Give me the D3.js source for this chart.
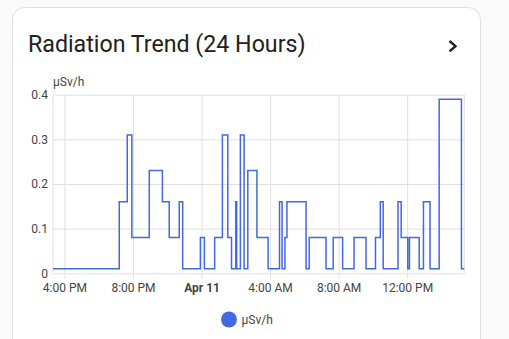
<!DOCTYPE html>
<html><head><meta charset="utf-8">
<script src="https://cdn.jsdelivr.net/npm/d3@7"></script>
<style>
html,body{margin:0;padding:0;background:#fafafa;}
svg{display:block;font-family:Roboto,"Noto Sans",sans-serif;}
</style></head>
<body><svg id="c" width="509" height="339"></svg>
<script>
// ---- data ----
const seriesName = "µSv/h";
const startTime = "2024-04-10T15:20";
const endTime = "2024-04-11T15:20";
const stepTimes = [
 "2024-04-10T15:20","2024-04-10T19:12","2024-04-10T19:40","2024-04-10T19:56","2024-04-10T20:57",
 "2024-04-10T21:43","2024-04-10T22:07","2024-04-10T22:42","2024-04-10T22:54","2024-04-10T23:56",
 "2024-04-11T00:10","2024-04-11T00:46","2024-04-11T01:13","2024-04-11T01:32","2024-04-11T01:45",
 "2024-04-11T02:00","2024-04-11T02:03","2024-04-11T02:16","2024-04-11T02:29","2024-04-11T02:42",
 "2024-04-11T03:14","2024-04-11T03:53","2024-04-11T04:33","2024-04-11T04:42","2024-04-11T04:52",
 "2024-04-11T04:59","2024-04-11T06:06","2024-04-11T06:17","2024-04-11T07:16","2024-04-11T07:41",
 "2024-04-11T08:14","2024-04-11T08:54","2024-04-11T09:36","2024-04-11T10:09","2024-04-11T10:26",
 "2024-04-11T10:36","2024-04-11T11:28","2024-04-11T11:39","2024-04-11T12:02","2024-04-11T12:08",
 "2024-04-11T12:42","2024-04-11T12:57","2024-04-11T13:20","2024-04-11T13:52","2024-04-11T15:10"
];
const stepValues = [
 0.01,0.16,0.31,0.08,0.23,
 0.16,0.08,0.16,0.01,0.08,
 0.01,0.08,0.31,0.08,0.01,
 0.16,0.01,0.31,0.01,0.23,
 0.08,0.01,0.16,0.01,0.08,
 0.16,0.01,0.08,0.01,0.08,
 0.01,0.08,0.01,0.08,0.16,
 0.01,0.16,0.08,0.01,0.08,
 0.01,0.16,0.01,0.39,0.01
];
const xTickTimes = ["2024-04-10T16:00","2024-04-10T20:00","2024-04-11T00:00","2024-04-11T04:00","2024-04-11T08:00","2024-04-11T12:00"];
const xTickLabels = ["4:00 PM","8:00 PM","Apr 11","4:00 AM","8:00 AM","12:00 PM"];
const yTicks = [0,0.1,0.2,0.3,0.4];
const yTickLabels = ["0","0.1","0.2","0.3","0.4"];

// ---- drawing ----
const parse = d3.timeParse("%Y-%m-%dT%H:%M");
const svg = d3.select("#c");
const color = "#4169e1";

// card
svg.append("rect").attr("x",12.5).attr("y",7.5).attr("width",468).attr("height",360)
  .attr("rx",12).attr("fill","#fff").attr("stroke","#e0e0e0");
svg.append("text").attr("x",28).attr("y",51.5).attr("font-size",23.2).attr("fill","#212121")
  .text("Radiation Trend (24 Hours)");
svg.append("path").attr("d","M449.5,41 L455.5,46.2 L449.5,51.4").attr("fill","none")
  .attr("stroke","#212121").attr("stroke-width",2.4);

const pLeft=53, pRight=464.3, pTop=94.7, pBottom=273.3;
const x = d3.scaleTime().domain([parse(startTime),parse(endTime)]).range([pLeft,pRight]);
const y = d3.scaleLinear().domain([0,0.4]).range([pBottom,pTop]);

// y grid + labels
const yAxis = d3.axisLeft(y).tickValues(yTicks).tickFormat((d,i)=>yTickLabels[i])
  .tickSize(-(pRight-pLeft)).tickPadding(5);
const gy = svg.append("g").attr("transform",`translate(${pLeft},0)`).call(yAxis);
gy.select(".domain").remove();
gy.selectAll(".tick line").attr("stroke","#e0e0e0");
gy.selectAll(".tick text").attr("font-size",12).attr("fill","#444").attr("font-family","Roboto");

// x grid + labels
const xAxis = d3.axisBottom(x).tickValues(xTickTimes.map(parse))
  .tickFormat((d,i)=>xTickLabels[i]).tickSize(-(pBottom-pTop)-5).tickPadding(8);
const gx = svg.append("g").attr("transform",`translate(0,${pBottom+5})`).call(xAxis);
gx.select(".domain").remove();
gx.selectAll(".tick line").attr("stroke","#e0e0e0");
gx.selectAll(".tick text").attr("font-size",12).attr("fill","#444").attr("font-family","Roboto")
  .attr("font-weight",(d,i)=>xTickLabels[i]==="Apr 11"?"bold":"normal").attr("dy","0.5em");

// frame lines
svg.append("line").attr("x1",pLeft).attr("x2",pLeft).attr("y1",pTop).attr("y2",pBottom).attr("stroke","#e0e0e0");
svg.append("line").attr("x1",pRight).attr("x2",pRight).attr("y1",pTop).attr("y2",pBottom).attr("stroke","#e0e0e0");

// unit label
svg.append("text").attr("x",53).attr("y",85.5).attr("font-size",12).attr("fill","#444").text(seriesName);

// series
const pts = stepTimes.map((t,i)=>({t:parse(t),v:stepValues[i]}));
pts.push({t:parse(endTime),v:stepValues[stepValues.length-1]});
const line = d3.line().x(d=>x(d.t)).y(d=>y(d.v)).curve(d3.curveStepAfter);
svg.append("path").datum(pts).attr("d",line).attr("fill","none").attr("stroke",color)
  .attr("stroke-width",1.5).attr("stroke-linejoin","miter");

// legend
svg.append("circle").attr("cx",229).attr("cy",319.5).attr("r",8).attr("fill",color);
svg.append("text").attr("x",241.5).attr("y",323.8).attr("font-size",12).attr("fill","#444").text(seriesName);
</script></body></html>
